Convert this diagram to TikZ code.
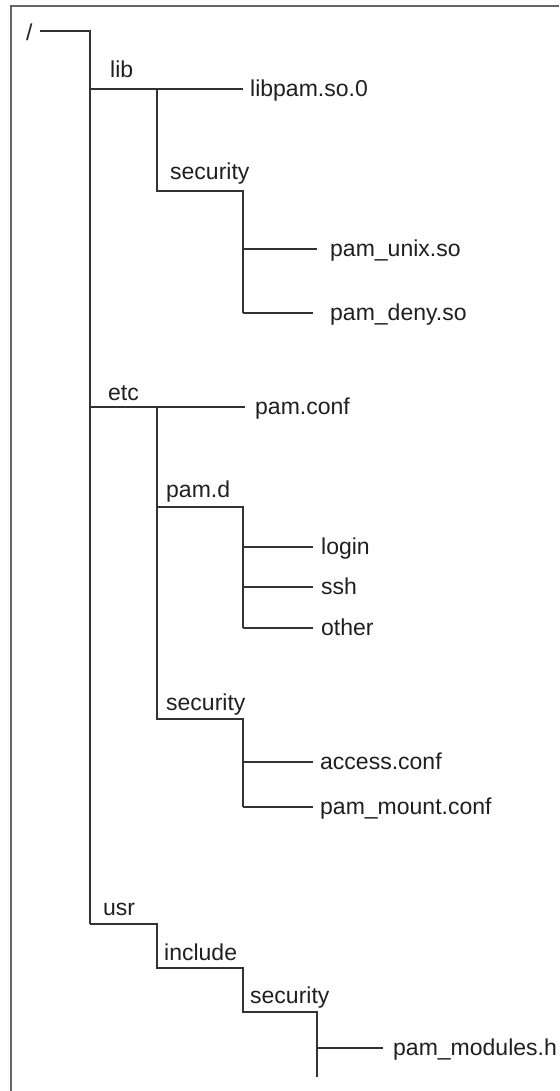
\documentclass[tikz,border=0pt]{standalone}
\usepackage{fontspec}
\setmainfont{Liberation Sans}
\begin{document}
\begin{tikzpicture}[x=1pt,y=-1pt,
  txt/.style={inner sep=0pt, font=\fontsize{23}{27}\selectfont, text=black!88},
  lbl/.style={txt, anchor=base west},
  leaf/.style={txt, anchor=west, inner xsep=#1, text height=15pt, text depth=0pt},
  conn/.style={draw=black!80, line width=1.2pt},
  frame/.style={draw=black!60, line width=2pt}]
\useasboundingbox (0,0) rectangle (559,1091);
\draw[frame] (11,1091) -- (11,6) -- (559,6);

% root
\node[lbl] (root) at (26,41) {/};
\coordinate (r) at (90,31);
\coordinate (rs) at (40,31);
\coordinate (libj) at (90,89);
\coordinate (etcj) at (90,407);
\coordinate (usrj) at (90,924);
\draw[conn] (rs) -- (r) -- (usrj);

% lib
\node[lbl] (lib) at (110,78) {lib};
\node[leaf=7pt] (libpam) at (243,89) {libpam.so.0};
\draw[conn] (libj) -- (libpam.west);
\coordinate (libk) at (157,89);
\coordinate (libsecj) at (157,191);
\coordinate (libsecr) at (243,191);
\coordinate (libsecb) at (243,313);
\node[lbl] (libsec) at (170,180) {security};
\draw[conn] (libk) -- (libsecj) -- (libsecr) -- (libsecb);
\node[leaf=13pt] (unix) at (317,249) {pam\_unix.so};
\node[leaf=17pt] (deny) at (313,313) {pam\_deny.so};
\draw[conn] (unix.west -| libsecr) -- (unix.west);
\draw[conn] (libsecb) -- (deny.west);

% etc
\node[lbl] (etc) at (108,400) {etc};
\node[leaf=10pt] (pamconf) at (245,407) {pam.conf};
\draw[conn] (etcj) -- (pamconf.west);
\coordinate (etck) at (157,407);
\coordinate (pamdj) at (157,507);
\coordinate (pamdr) at (243,507);
\coordinate (pamdb) at (243,628);
\coordinate (esecj) at (157,719);
\coordinate (esecr) at (243,719);
\coordinate (esecb) at (243,807);
\node[lbl] (pamd) at (166,497) {pam.d};
\draw[conn] (etck) -- (esecj) -- (esecr) -- (esecb);
\draw[conn] (pamdj) -- (pamdr) -- (pamdb);
\node[leaf=8pt] (login) at (313,547) {login};
\node[leaf=8pt] (ssh) at (313,587) {ssh};
\node[leaf=8pt] (other) at (313,628) {other};
\draw[conn] (login.west -| pamdr) -- (login.west);
\draw[conn] (ssh.west -| pamdr) -- (ssh.west);
\draw[conn] (pamdb) -- (other.west);
\node[lbl] (esec) at (166,710) {security};
\node[leaf=7pt] (access) at (313,762) {access.conf};
\node[leaf=7pt] (mount) at (313,807) {pam\_mount.conf};
\draw[conn] (access.west -| esecr) -- (access.west);
\draw[conn] (esecb) -- (mount.west);

% usr
\node[lbl] (usr) at (103,915) {usr};
\coordinate (usrk) at (157,924);
\coordinate (incj) at (157,968);
\coordinate (incr) at (243,968);
\coordinate (usecj) at (243,1012);
\coordinate (usecr) at (317,1012);
\coordinate (usecb) at (317,1077);
\node[lbl] (inc) at (164,960) {include};
\node[lbl] (usec) at (250,1003) {security};
\draw[conn] (usrj) -- (usrk) -- (incj) -- (incr) -- (usecj) -- (usecr) -- (usecb);
\node[leaf=10pt] (mod) at (383,1048) {pam\_modules.h};
\draw[conn] (mod.west -| usecr) -- (mod.west);
\end{tikzpicture}
\end{document}
